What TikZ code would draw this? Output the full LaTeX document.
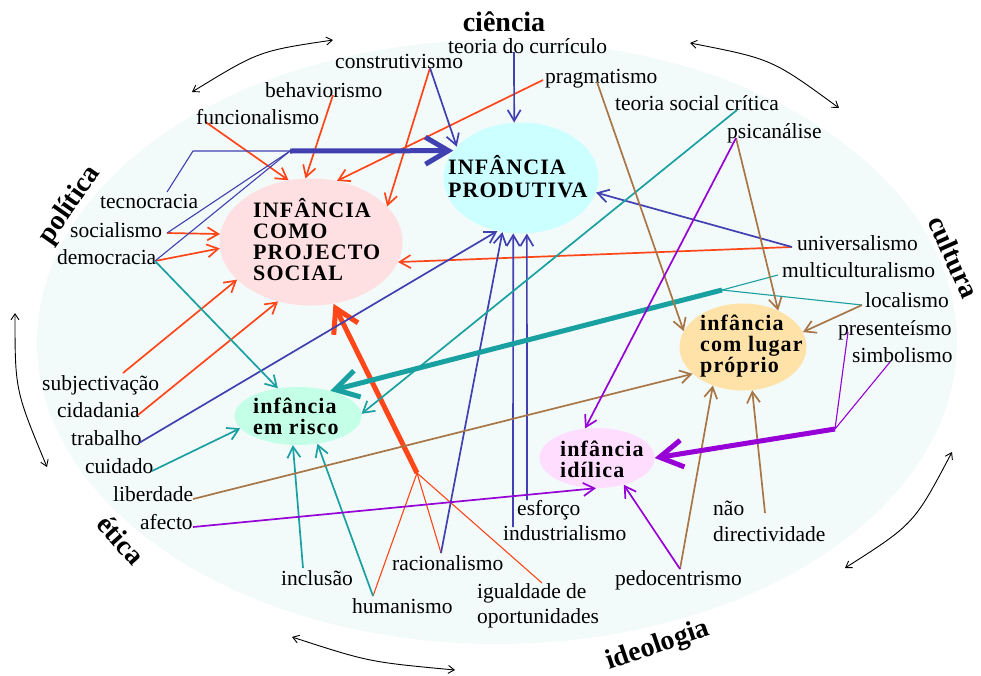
\documentclass[tikz,border=0pt]{standalone}
\usepackage{fontspec}
\setmainfont{Liberation Serif}
\newfontfamily\tagfont[LetterSpace=5]{Liberation Serif}
\usetikzlibrary{arrows.meta,shapes.geometric}
\definecolor{redc}{RGB}{255,70,25}
\definecolor{bluec}{RGB}{64,64,176}
\definecolor{tealc}{RGB}{25,160,160}
\definecolor{brownc}{RGB}{168,118,70}
\definecolor{purplec}{RGB}{150,0,215}
\definecolor{bgc}{RGB}{243,250,250}
\definecolor{pinkc}{RGB}{255,224,226}
\definecolor{cyanc}{RGB}{204,255,255}
\definecolor{peachc}{RGB}{255,226,168}
\definecolor{mintc}{RGB}{196,255,232}
\definecolor{lilacc}{RGB}{255,221,255}
\begin{document}
\begin{tikzpicture}[x=1pt,y=-1pt,
  leaf/.style={inner sep=0pt,anchor=base west,font=\fontsize{21.5}{25.5}\selectfont},
  leaftwo/.style={inner sep=0pt,anchor=north west,align=left,font=\fontsize{21.5}{25.5}\selectfont},
  area/.style={inner sep=0pt,font=\fontsize{28}{30}\selectfont\bfseries},
  blob/.style={ellipse,inner sep=0pt,draw=none},
  tag/.style={inner sep=0pt,anchor=north west,align=left,font=\tagfont\bfseries\fontsize{22}{#1}\selectfont},
  tag/.default=21,
  con/.style={line width=1.7pt,->,>={Straight Barb[length=11pt,width=13pt]}},
  thin/.style={line width=1.1pt},
  fat/.style={line width=5pt,->,>={Straight Barb[length=23pt,width=27pt]}},
  swing/.style={line width=0.9pt,<->,>={Straight Barb[length=6pt,width=8pt]}}]
  \useasboundingbox (0,0) rectangle (981,675);
  \fill[bgc] (497,342) ellipse [x radius=460,y radius=302];

  \node[blob,fill=pinkc,minimum width=183,minimum height=127] (social) at (311,242) {};
  \node[blob,fill=cyanc,minimum width=155,minimum height=111] (produtiva) at (521,178) {};
  \node[blob,fill=peachc,minimum width=127,minimum height=87] (lugar) at (743,347) {};
  \node[blob,fill=mintc,minimum width=127,minimum height=58] (risco) at (298,416) {};
  \node[blob,fill=lilacc,minimum width=115,minimum height=60] (idilica) at (597,458) {};

  \node[tag] (social-t) at (253,198) {INFÂNCIA\\COMO\\PROJECTO\\SOCIAL};
  \node[tag=23] (produtiva-t) at (448,155) {INFÂNCIA\\PRODUTIVA};
  \node[tag] (lugar-t) at (700,315) {infância\\com lugar\\próprio};
  \node[tag] (risco-t) at (253,398) {infância\\em risco};
  \node[tag] (idilica-t) at (560,441) {infância\\idílica};

  \node[area] (ciencia) at (504,22) {ciência};
  \node[area,rotate=55] (politica) at (70,205) {política};
  \node[area,rotate=-66] (cultura) at (954,257) {cultura};
  \node[area,rotate=-48] (etica) at (121,540) {ética};
  \node[area,rotate=19] (ideologia) at (658,646) {ideologia};

  \draw[swing] (192,92) .. controls (259,51) .. (333,40);
  \draw[swing] (690,43) .. controls (772,59) .. (839,108);
  \draw[swing] (15,313) .. controls (15,390) .. (47,467);
  \draw[swing] (292,637) .. controls (369,662) .. (455,670);
  \draw[swing] (845,568) .. controls (914,524) .. (952,452);

  \node[leaf] (curriculo) at (448,53) {teoria do currículo};
  \node[leaf] (construtivismo) at (335,68) {construtivismo};
  \node[leaf] (pragmatismo) at (545,83) {pragmatismo};
  \node[leaf] (behaviorismo) at (265,97) {behaviorismo};
  \node[leaf] (funcionalismo) at (196,124) {funcionalismo};
  \node[leaf] (critica) at (615,110) {teoria social crítica};
  \node[leaf] (psicanalise) at (727,138) {psicanálise};
  \node[leaf] (tecnocracia) at (100,208) {tecnocracia};
  \node[leaf] (socialismo) at (70,237) {socialismo};
  \node[leaf] (democracia) at (57,264) {democracia};
  \node[leaf] (universalismo) at (797,250) {universalismo};
  \node[leaf] (multicult) at (782,277) {multiculturalismo};
  \node[leaf] (localismo) at (865,307) {localismo};
  \node[leaf] (presenteismo) at (838,335) {presenteísmo};
  \node[leaf] (simbolismo) at (852,362) {simbolismo};
  \node[leaf] (subjectivacao) at (42,390) {subjectivação};
  \node[leaf] (cidadania) at (57,417) {cidadania};
  \node[leaf] (trabalho) at (71,445) {trabalho};
  \node[leaf] (cuidado) at (85,473) {cuidado};
  \node[leaf] (liberdade) at (113,501) {liberdade};
  \node[leaf] (afecto) at (140,529) {afecto};
  \node[leaf] (inclusao) at (281,585) {inclusão};
  \node[leaf] (humanismo) at (352,613) {humanismo};
  \node[leaf] (racionalismo) at (392,570) {racionalismo};
  \node[leaftwo] (igualdade) at (477,583) {igualdade de\\oportunidades};
  \node[leaf] (esforco) at (517,515) {esforço};
  \node[leaf] (industrialismo) at (503,540) {industrialismo};
  \node[leaftwo] (naodir) at (713,501) {não\\directividade};
  \node[leaf] (pedocentrismo) at (615,585) {pedocentrismo};

  \coordinate (jblue) at (290,151);
  \coordinate (jblue-c) at (193,151);
  \coordinate (jteal) at (722,290);
  \coordinate (jpurple) at (835,429);
  \coordinate (jred) at (417,473);

  \draw[con,redc] ([shift={(11,-1)}]funcionalismo.base west) -- (social.110);
  \draw[con,redc] ([shift={(68,-2)}]behaviorismo.base west) -- (social.95);
  \draw[con,redc] ([shift={(-2,-3)}]pragmatismo.base west) -- (social.67);
  \draw[con,redc] ([shift={(95,0)}]construtivismo.base west) -- (social.25);
  \draw[con,redc] ([shift={(97,-4)}]socialismo.base west) -- (social.175);
  \draw[con,redc] ([shift={(98,-3)}]democracia.base west) -- (social.184);
  \draw[con,redc] ([shift={(81,-17)}]subjectivacao.base west) -- (social.207);
  \draw[con,redc] ([shift={(81,-2)}]cidadania.base west) -- (social.241);
  \draw[con,redc] ([shift={(-5,-3)}]universalismo.base west) -- (social.347);
  \draw[thin,redc] ([shift={(21,-17)}]humanismo.base west) -- (jred);
  \draw[thin,redc] ([shift={(49,-17)}]racionalismo.base west) -- (jred);
  \draw[thin,redc] ([shift={(65,0)}]igualdade.north west) -- (jred);
  \draw[fat,redc] (jred) -- (social.290);

  \draw[con,bluec] ([shift={(66,-1)}]curriculo.base west) -- (produtiva.97);
  \draw[con,bluec] ([shift={(95,0)}]construtivismo.base west) -- (produtiva.154);
  \draw[thin,bluec] ([shift={(67,-16)}]tecnocracia.base west) -- (jblue-c) -- (jblue);
  \draw[thin,bluec] ([shift={(97,-4)}]socialismo.base west) -- (jblue);
  \draw[thin,bluec] ([shift={(98,-3)}]democracia.base west) -- (jblue);
  \draw[fat,bluec] (jblue) -- (produtiva.158);
  \draw[con,bluec] ([shift={(68,-2)}]trabalho.base west) -- (produtiva.246);
  \draw[con,bluec] ([shift={(49,-17)}]racionalismo.base west) -- (produtiva.251);
  \draw[con,bluec] ([shift={(10,-13)}]industrialismo.base west) -- (produtiva.262);
  \draw[con,bluec] ([shift={(10,-15)}]esforco.base west) -- (produtiva.276);
  \draw[con,bluec] ([shift={(-5,-3)}]universalismo.base west) -- (produtiva.349);

  \draw[con,tealc] ([shift={(98,-3)}]democracia.base west) -- (risco.126);
  \draw[con,tealc] ([shift={(122,0)}]critica.base west) -- (risco.2);
  \draw[con,tealc] ([shift={(67,-2)}]cuidado.base west) -- (risco.192);
  \draw[con,tealc] ([shift={(22,-17)}]inclusao.base west) -- (risco.260);
  \draw[con,tealc] ([shift={(21,-17)}]humanismo.base west) -- (risco.305);
  \draw[thin,tealc] ([shift={(-4,-2)}]multicult.base west) -- (jteal);
  \draw[thin,tealc] ([shift={(-3,-2)}]localismo.base west) -- (jteal);
  \draw[fat,tealc] (jteal) -- (risco.38);

  \draw[con,brownc] ([shift={(52,-1)}]pragmatismo.base west) -- (lugar.165);
  \draw[con,brownc] ([shift={(9,0)}]psicanalise.base west) -- (lugar.46);
  \draw[con,brownc] ([shift={(-3,-2)}]localismo.base west) -- (lugar.14);
  \draw[con,brownc] ([shift={(80,-2)}]liberdade.base west) -- (lugar.208);
  \draw[con,brownc] ([shift={(65,-16)}]pedocentrismo.base west) -- (lugar.232);
  \draw[con,brownc] ([shift={(52,12)}]naodir.north west) -- (lugar.282);

  \draw[con,purplec] ([shift={(9,0)}]psicanalise.base west) -- (idilica.112);
  \draw[con,purplec] ([shift={(53,-2)}]afecto.base west) -- (idilica.268);
  \draw[con,purplec] ([shift={(65,-16)}]pedocentrismo.base west) -- (idilica.315);
  \draw[thin,purplec] ([shift={(10,-3)}]presenteismo.base west) -- (jpurple);
  \draw[thin,purplec] ([shift={(38,0)}]simbolismo.base west) -- (jpurple);
  \draw[fat,purplec] (jpurple) -- (idilica.0);
\end{tikzpicture}
\end{document}
